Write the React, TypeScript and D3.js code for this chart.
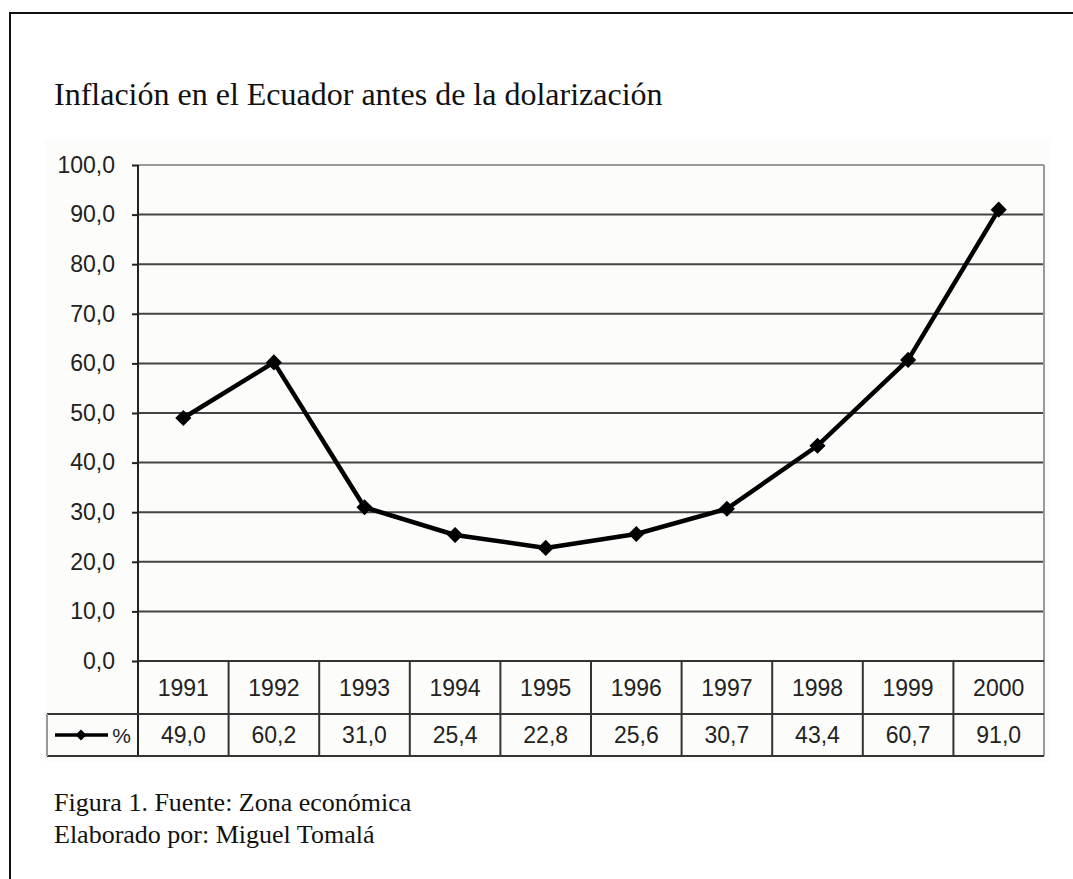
import React, { useEffect, useRef } from "react";
import * as d3 from "d3";

const years = ["1991", "1992", "1993", "1994", "1995", "1996", "1997", "1998", "1999", "2000"];
const inflation = [49.0, 60.2, 31.0, 25.4, 22.8, 25.6, 30.7, 43.4, 60.7, 91.0];
const yTicks = [0, 10, 20, 30, 40, 50, 60, 70, 80, 90, 100];
const seriesName = "%";

const title = "Inflación en el Ecuador antes de la dolarización";
const footer = ["Figura 1. Fuente: Zona económica", "Elaborado por: Miguel Tomalá"];

const fmt = (v: number) => v.toFixed(1).replace(".", ",");

export default function App() {
  const ref = useRef<SVGSVGElement | null>(null);

  useEffect(() => {
    const W = 1073, H = 879;
    const left = 138, right = 1044, top = 165, bottom = 661;
    const row1 = 714, row2 = 756, tableLeft = 47;
    const sans = "Arial, 'Liberation Sans', sans-serif";
    const serif = "'Times New Roman', 'Liberation Serif', serif";

    const svg = d3.select(ref.current);
    svg.selectAll("*").remove();

    // outer frame (only top and left edges visible)
    svg.append("path")
      .attr("d", `M10,${H} L10,13 L${W},13`)
      .attr("fill", "none")
      .attr("stroke", "#111")
      .attr("stroke-width", 2);

    svg.append("text")
      .attr("x", 54).attr("y", 105)
      .attr("font-family", serif).attr("font-size", 32)
      .attr("fill", "#111")
      .text(title);

    // faint chart area background
    svg.append("rect")
      .attr("x", 45).attr("y", 140)
      .attr("width", 1005).attr("height", 622)
      .attr("fill", "#fcfcfa");

    const x = d3.scaleBand<string>().domain(years).range([left, right]);
    const y = d3.scaleLinear().domain([0, 100]).range([bottom, top]);

    // gridlines
    svg.append("g").selectAll("line")
      .data(yTicks.filter(t => t > 0))
      .enter().append("line")
      .attr("x1", left).attr("x2", right)
      .attr("y1", d => y(d)).attr("y2", d => y(d))
      .attr("stroke", d => d === 100 ? "#999" : "#444")
      .attr("stroke-width", 2);

    // right edge of plot
    svg.append("line")
      .attr("x1", right).attr("x2", right)
      .attr("y1", top).attr("y2", row2)
      .attr("stroke", "#999").attr("stroke-width", 2);

    // y axis
    const yAxis = svg.append("g")
      .attr("transform", `translate(${left},0)`)
      .call(d3.axisLeft(y).tickValues(yTicks).tickSize(6).tickPadding(17).tickFormat(d => fmt(+d)));
    yAxis.select(".domain").remove();
    yAxis.selectAll(".tick line").attr("stroke", "#222").attr("stroke-width", 2);
    yAxis.selectAll("text")
      .attr("font-family", sans).attr("font-size", 23).attr("fill", "#222");

    svg.append("line")
      .attr("x1", left).attr("x2", left)
      .attr("y1", top).attr("y2", row2)
      .attr("stroke", "#222").attr("stroke-width", 2);

    // data table
    const tbl = svg.append("g").attr("stroke", "#333").attr("stroke-width", 2);
    tbl.append("line").attr("x1", left).attr("x2", right).attr("y1", bottom).attr("y2", bottom);
    tbl.append("line").attr("x1", tableLeft).attr("x2", right).attr("y1", row1).attr("y2", row1);
    tbl.append("line").attr("x1", tableLeft).attr("x2", right).attr("y1", row2).attr("y2", row2);
    tbl.append("line").attr("x1", tableLeft).attr("x2", tableLeft).attr("y1", row1).attr("y2", row2)
      .attr("stroke", "#999");
    tbl.selectAll(".col")
      .data(years.slice(1))
      .enter().append("line")
      .attr("x1", d => x(d)!).attr("x2", d => x(d)!)
      .attr("y1", bottom).attr("y2", row2);

    svg.append("g").selectAll("text")
      .data(years)
      .enter().append("text")
      .attr("x", d => x(d)! + x.bandwidth() / 2)
      .attr("y", 696)
      .attr("text-anchor", "middle")
      .attr("font-family", sans).attr("font-size", 23).attr("fill", "#222")
      .text(d => d);

    svg.append("g").selectAll("text")
      .data(inflation)
      .enter().append("text")
      .attr("x", (d, i) => x(years[i])! + x.bandwidth() / 2)
      .attr("y", 743)
      .attr("text-anchor", "middle")
      .attr("font-family", sans).attr("font-size", 23).attr("fill", "#222")
      .text(d => fmt(d));

    // diamond marker = rotated square
    const diamond = (size: number) => d3.symbol().type(d3.symbolSquare).size(size)()!;

    // legend key
    const lg = svg.append("g");
    lg.append("line")
      .attr("x1", 55).attr("x2", 108).attr("y1", 735).attr("y2", 735)
      .attr("stroke", "#000").attr("stroke-width", 3.5);
    lg.append("path")
      .attr("d", diamond(60))
      .attr("transform", "translate(81,735) rotate(45)")
      .attr("fill", "#000");
    lg.append("text")
      .attr("x", 131).attr("y", 743)
      .attr("text-anchor", "end")
      .attr("font-family", sans).attr("font-size", 21).attr("fill", "#222")
      .text(seriesName);

    // series line
    const cx = (i: number) => x(years[i])! + x.bandwidth() / 2;
    const line = d3.line<number>().x((d, i) => cx(i)).y(d => y(d));
    svg.append("path")
      .datum(inflation)
      .attr("d", line)
      .attr("fill", "none")
      .attr("stroke", "#000")
      .attr("stroke-width", 4.5)
      .attr("stroke-linejoin", "round");

    svg.append("g").selectAll("path")
      .data(inflation)
      .enter().append("path")
      .attr("d", diamond(130))
      .attr("transform", (d, i) => `translate(${cx(i)},${y(d)}) rotate(45)`)
      .attr("fill", "#000");

    // footer
    svg.append("g").selectAll("text")
      .data(footer)
      .enter().append("text")
      .attr("x", 54)
      .attr("y", (d, i) => 811 + i * 32)
      .attr("font-family", serif).attr("font-size", 26).attr("fill", "#111")
      .text(d => d);
  }, []);

  return (
    <div style={{ position: "absolute", left: 0, top: 0 }}>
      <svg ref={ref} width={1073} height={879} style={{ display: "block", background: "#fff" }} />
    </div>
  );
}
